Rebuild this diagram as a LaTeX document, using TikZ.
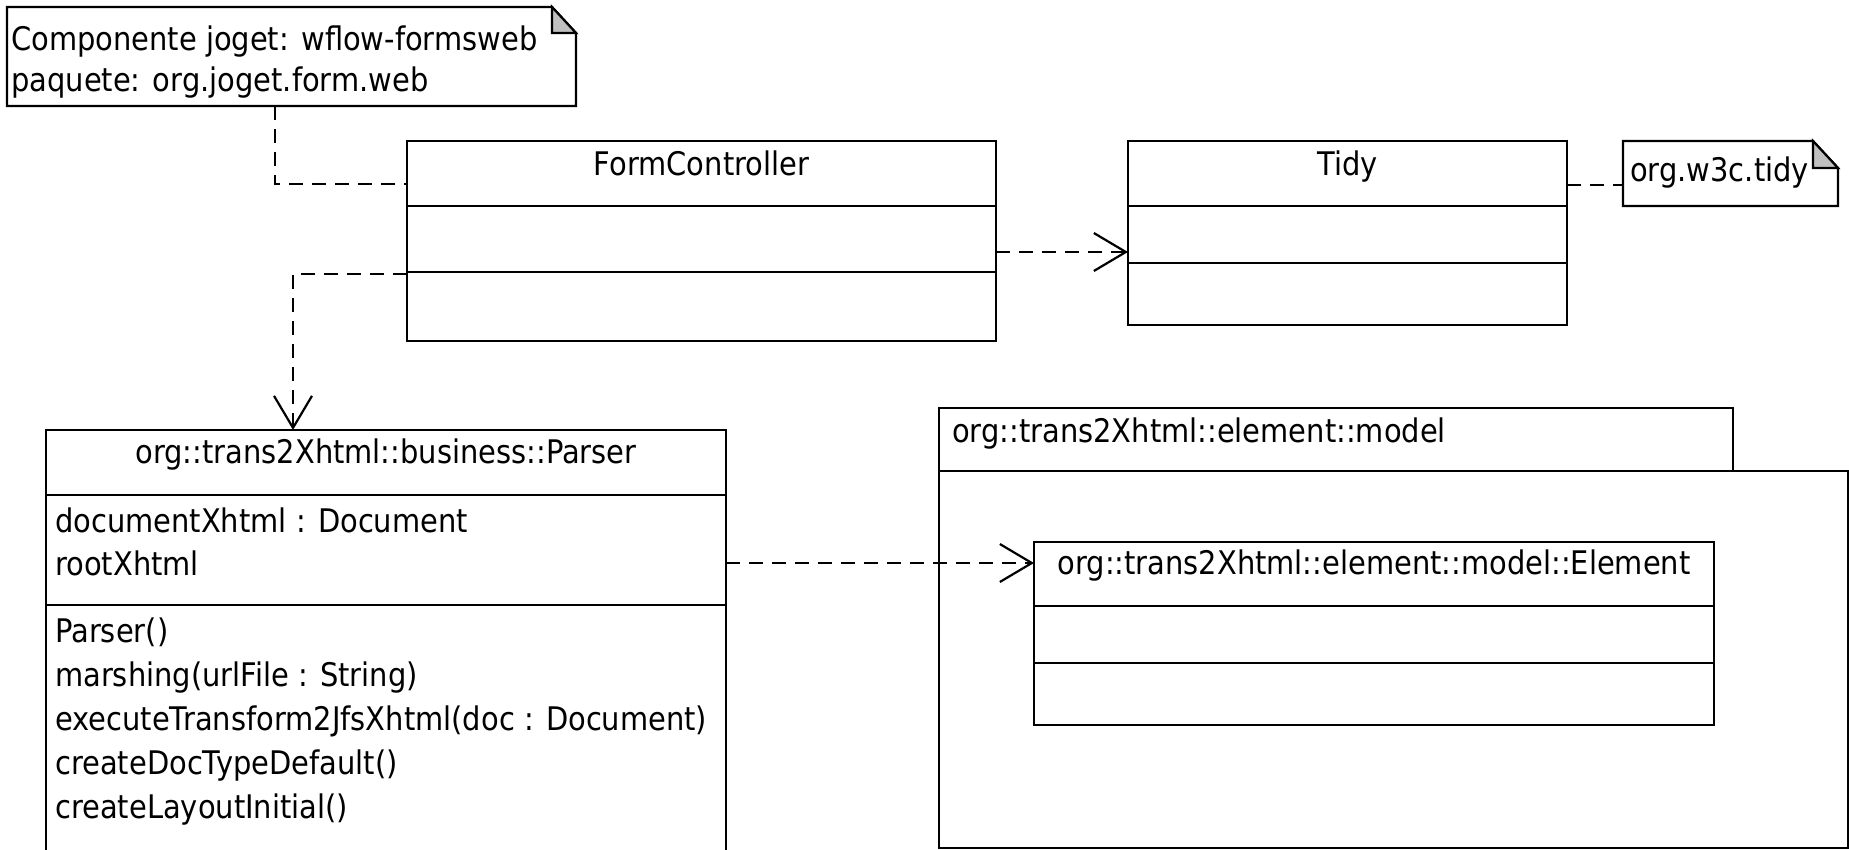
\documentclass[tikz,border=0pt]{standalone}
\usepackage{fontspec}
\setmainfont{DejaVu Sans}[FakeStretch=0.89]
\usetikzlibrary{arrows.meta}
\definecolor{foldgray}{RGB}{192,192,192}
\newcommand\umlfont{\fontsize{32.5}{40}\selectfont}
\tikzset{
  umlbox/.style args={#1/#2}{draw=black, line width=2.2pt, minimum width=#1pt, minimum height=#2pt, anchor=north west, inner sep=0pt, outer sep=0pt},
  anchorbox/.style args={#1/#2}{minimum width=#1pt, minimum height=#2pt, anchor=north west, inner sep=0pt, outer sep=0pt},
  ctext/.style={font=\umlfont, anchor=base, inner sep=0pt},
  ltext/.style={font=\umlfont, anchor=base west, inner sep=0pt},
  divider/.style={line width=2.2pt},
  noteline/.style={line width=2.2pt, fill=white},
  notefold/.style={line width=2.2pt, fill=foldgray},
  dashline/.style={line width=2.2pt, dash pattern=on 14pt off 9pt},
  dep/.style={dashline, -{Straight Barb[length=32pt,width=38pt]}},
}
\begin{document}
\begin{tikzpicture}[x=1pt,y=-1pt]
\useasboundingbox (0,0) rectangle (1849,850);
\clip (0,0) rectangle (1849,850);

% package
\node[umlbox=794/63] (pkgtab) at (939,408) {};
\node[umlbox=909/377] (pkg) at (939,471) {};
\node[ltext] (pkgname) at (952,442) {org::trans2Xhtml::element::model};

% note 1
\node[anchorbox=569/99] (note1) at (7,7) {};
\draw[noteline] (note1.north west) -- ([xshift=-24pt]note1.north east) -- ([yshift=-26pt]note1.north east) -- (note1.south east) -- (note1.south west) -- cycle;
\draw[notefold] ([xshift=-24pt]note1.north east) -- ([xshift=-24pt,yshift=-26pt]note1.north east) -- ([yshift=-26pt]note1.north east) -- cycle;
\node[ltext] (note1a) at (11,51) {Componente joget: wflow-formsweb};
\node[ltext] (note1b) at (11,92) {paquete: org.joget.form.web};

% FormController
\node[umlbox=589/200] (fc) at (407,141) {};
\draw[divider] (fc.west |- 0,206) -- (fc.east |- 0,206);
\draw[divider] (fc.west |- 0,272) -- (fc.east |- 0,272);
\node[ctext] (fcname) at (fc.north |- 0,176) {FormController};

% Tidy
\node[umlbox=439/184] (tidy) at (1128,141) {};
\draw[divider] (tidy.west |- 0,206) -- (tidy.east |- 0,206);
\draw[divider] (tidy.west |- 0,263) -- (tidy.east |- 0,263);
\node[ctext] (tidyname) at (tidy.north |- 0,176) {Tidy};

% note 2
\node[anchorbox=215/65] (note2) at (1623,141) {};
\draw[noteline] (note2.north west) -- ([xshift=-25pt]note2.north east) -- ([yshift=-27pt]note2.north east) -- (note2.south east) -- (note2.south west) -- cycle;
\draw[notefold] ([xshift=-25pt]note2.north east) -- ([xshift=-25pt,yshift=-27pt]note2.north east) -- ([yshift=-27pt]note2.north east) -- cycle;
\node[ltext] (note2a) at (1630,182) {org.w3c.tidy};

% Parser
\node[umlbox=680/460] (parser) at (46,430) {};
\draw[divider] (parser.west |- 0,495) -- (parser.east |- 0,495);
\draw[divider] (parser.west |- 0,605) -- (parser.east |- 0,605);
\node[ctext] (parsername) at (parser.north |- 0,463) {org::trans2Xhtml::business::Parser};
\node[ltext] (pa1) at (55,532) {documentXhtml : Document};
\node[ltext] (pa2) at (55,575) {rootXhtml};
\node[ltext] (po1) at (55,642) {Parser()};
\node[ltext] (po2) at (55,686) {marshing(urlFile : String)};
\node[ltext] (po3) at (55,730) {executeTransform2JfsXhtml(doc : Document)};
\node[ltext] (po4) at (55,774) {createDocTypeDefault()};
\node[ltext] (po5) at (55,818) {createLayoutInitial()};

% Element
\node[umlbox=680/183] (elem) at (1034,542) {};
\draw[divider] (elem.west |- 0,606) -- (elem.east |- 0,606);
\draw[divider] (elem.west |- 0,663) -- (elem.east |- 0,663);
\node[ctext] (elemname) at (elem.north |- 0,574) {org::trans2Xhtml::element::model::Element};

% connectors
\draw[dashline] (note1.south -| 275,0) |- (fc.west |- 0,184);
\draw[dep] (fc.west |- 0,274) -| (parser.north -| 293,0);
\draw[dep] (fc.east |- 0,252) -- (tidy.west |- 0,252);
\draw[dashline] (tidy.east |- 0,185) -- (note2.west |- 0,185);
\draw[dep] (parser.east |- 0,563) -- (elem.west |- 0,563);
\end{tikzpicture}
\end{document}
